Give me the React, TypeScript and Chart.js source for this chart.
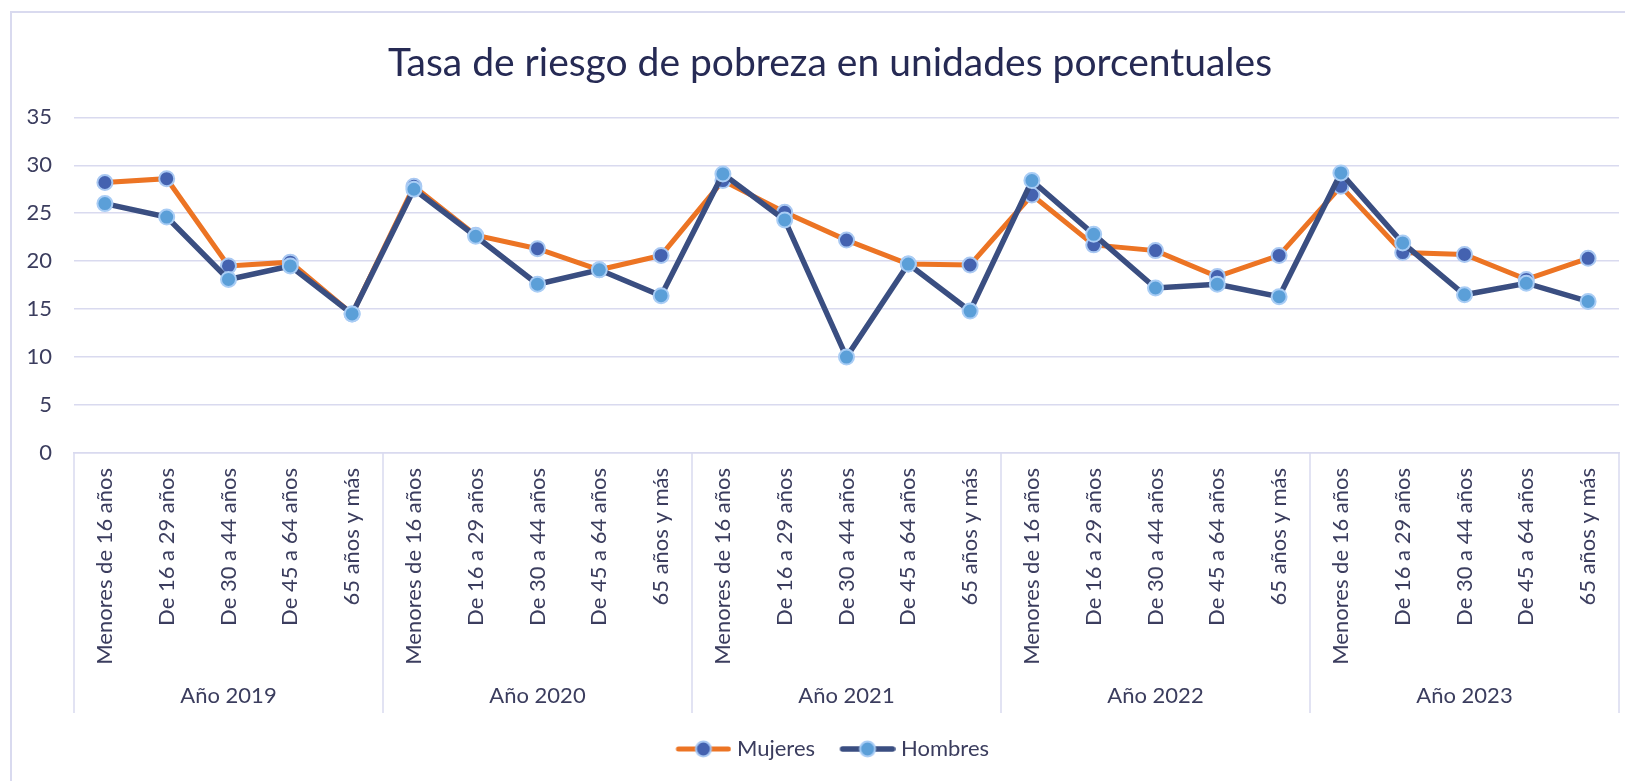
import React, { useEffect, useRef } from 'react';
import { Chart, registerables } from 'chart.js';

Chart.register(...registerables);

const chartTitle = 'Tasa de riesgo de pobreza en unidades porcentuales';
const years = ['Año 2019', 'Año 2020', 'Año 2021', 'Año 2022', 'Año 2023'];
const ageGroups = ['Menores de 16 años', 'De 16 a 29 años', 'De 30 a 44 años', 'De 45 a 64 años', '65 años y más'];
const mujeres = [28.2, 28.6, 19.5, 19.9, 14.5, 27.8, 22.7, 21.3, 19.1, 20.6, 28.4, 25.1, 22.2, 19.7, 19.6, 26.9, 21.7, 21.1, 18.4, 20.6, 27.8, 20.9, 20.7, 18.1, 20.3];
const hombres = [26.0, 24.6, 18.1, 19.5, 14.5, 27.5, 22.6, 17.6, 19.1, 16.4, 29.1, 24.3, 10.0, 19.7, 14.8, 28.4, 22.8, 17.2, 17.6, 16.3, 29.2, 21.9, 16.5, 17.7, 15.8];
const yTicks = [0, 5, 10, 15, 20, 25, 30, 35];
const seriesNames = ['Mujeres', 'Hombres'];

const FONT = 'Lato';
const TEXT = '#3b3d5e';
const TITLE = '#262a54';
const GRID = '#d9daef';
const ORANGE = '#ec7424';
const NAVY = '#3a4e81';
const M_FILL = '#4462b0';
const M_BORDER = '#a9c8f2';
const H_FILL = '#5b9fd8';
const H_BORDER = '#a9cdf5';

const CANVAS_W = 1660;
const CANVAS_H = 781;

function legendImage(line: string, fill: string, border: string, lw: number) {
  const c = document.createElement('canvas');
  c.width = 66;
  c.height = 22;
  const g = c.getContext('2d')!;
  g.strokeStyle = line;
  g.lineWidth = lw;
  g.lineCap = 'round';
  g.beginPath();
  g.moveTo(13, 11);
  g.lineTo(63, 11);
  g.stroke();
  g.beginPath();
  g.arc(38, 11, 7.5, 0, Math.PI * 2);
  g.fillStyle = fill;
  g.fill();
  g.lineWidth = 2;
  g.strokeStyle = border;
  g.stroke();
  return c;
}

const groupPlugin = {
  id: 'groupLabels',
  afterDraw(chart: any) {
    const x = chart.scales.x;
    const ctx = chart.ctx;
    const n = ageGroups.length;
    const half = (x.getPixelForValue(1) - x.getPixelForValue(0)) / 2;
    const top = chart.chartArea.bottom;
    const bottom = top + 260;
    ctx.save();
    ctx.strokeStyle = GRID;
    ctx.lineWidth = 1.5;
    for (let g = 0; g <= years.length; g++) {
      const px = g < years.length
        ? x.getPixelForValue(g * n) - half
        : x.getPixelForValue(years.length * n - 1) + half;
      ctx.beginPath();
      ctx.moveTo(px, top);
      ctx.lineTo(px, bottom);
      ctx.stroke();
    }
    ctx.fillStyle = TEXT;
    ctx.font = `22px ${FONT}`;
    ctx.textAlign = 'center';
    ctx.textBaseline = 'middle';
    years.forEach((yr, g) => {
      const cx = x.getPixelForValue(g * n + (n - 1) / 2);
      ctx.fillText(yr, cx, bottom - 17);
    });
    ctx.restore();
  },
};

export default function App() {
  const ref = useRef<HTMLCanvasElement>(null);

  useEffect(() => {
    let chart: Chart | null = null;
    let cancelled = false;
    const build = () => {
      if (cancelled || !ref.current) return;
      const labels = years.flatMap(() => ageGroups);
      const imgs = [
        legendImage(ORANGE, M_FILL, M_BORDER, 5),
        legendImage(NAVY, H_FILL, H_BORDER, 5.5),
      ];
      chart = new Chart(ref.current, {
        type: 'line',
        data: {
          labels,
          datasets: [
            {
              label: seriesNames[0],
              data: mujeres,
              borderColor: ORANGE,
              borderWidth: 5,
              pointRadius: 7.5,
              pointHoverRadius: 7.5,
              pointBackgroundColor: M_FILL,
              pointBorderColor: M_BORDER,
              pointBorderWidth: 2,
              tension: 0,
              order: 2,
            },
            {
              label: seriesNames[1],
              data: hombres,
              borderColor: NAVY,
              borderWidth: 5.5,
              pointRadius: 7.5,
              pointHoverRadius: 7.5,
              pointBackgroundColor: H_FILL,
              pointBorderColor: H_BORDER,
              pointBorderWidth: 2,
              tension: 0,
              order: 1,
            },
          ],
        },
        options: {
          responsive: false,
          animation: false,
          events: [],
          layout: { padding: { left: 26, right: 26, top: 0, bottom: 11 } },
          scales: {
            x: {
              type: 'category',
              offset: true,
              grid: { display: false, drawTicks: false },
              border: { display: true, color: GRID, width: 1.5 },
              ticks: {
                autoSkip: false,
                maxRotation: 90,
                minRotation: 90,
                padding: 15,
                color: TEXT,
                font: { family: FONT, size: 22 },
              },
              afterFit: (s: any) => { s.height = 265; },
            },
            y: {
              min: 0,
              max: 35,
              afterBuildTicks: (s: any) => { s.ticks = yTicks.map((v) => ({ value: v })); },
              grid: { color: GRID, lineWidth: 1.5, drawTicks: false },
              border: { display: false },
              ticks: {
                padding: 22,
                color: TEXT,
                font: { family: FONT, size: 22 },
              },
              afterFit: (s: any) => { s.width = 48; },
            },
            yRight: {
              type: 'linear',
              position: 'right',
              display: true,
              grid: { display: false, drawTicks: false },
              border: { display: false },
              ticks: { display: false },
              afterFit: (s: any) => { s.width = 15; },
            },
          },
          plugins: {
            title: {
              display: true,
              text: chartTitle,
              color: TITLE,
              font: { family: FONT, size: 39, weight: 'normal' },
              padding: { top: 40, bottom: 30.5 },
            },
            legend: {
              position: 'bottom',
              labels: {
                usePointStyle: true,
                pointStyleWidth: 55,
                padding: 20,
                color: TEXT,
                font: { family: FONT, size: 22 },
                generateLabels: (c: any) =>
                  c.data.datasets.map((ds: any, i: number) => ({
                    text: ds.label,
                    fillStyle: 'transparent',
                    strokeStyle: 'transparent',
                    lineWidth: 0,
                    pointStyle: imgs[i],
                    datasetIndex: i,
                    hidden: false,
                    fontColor: TEXT,
                  })),
              },
            },
            tooltip: { enabled: false },
          },
        },
        plugins: [groupPlugin],
      });
    };
    const fontsApi: any = (document as any).fonts;
    if (fontsApi && fontsApi.load) {
      Promise.all([fontsApi.load(`22px ${FONT}`), fontsApi.load(`39px ${FONT}`)])
        .catch(() => null)
        .then(build);
    } else {
      build();
    }
    return () => {
      cancelled = true;
      if (chart) chart.destroy();
    };
  }, []);

  return (
    <div style={{ position: 'fixed', left: 0, top: 0, width: 1625, height: 781, overflow: 'hidden', background: '#ffffff' }}>
      <div
        style={{
          position: 'absolute',
          left: 10,
          top: 11,
          width: 1700,
          height: 900,
          borderLeft: `2px solid ${GRID}`,
          borderTop: `2px solid ${GRID}`,
        }}
      />
      <canvas
        ref={ref}
        width={CANVAS_W}
        height={CANVAS_H}
        style={{ position: 'absolute', left: 0, top: 0, width: CANVAS_W, height: CANVAS_H }}
      />
    </div>
  );
}
